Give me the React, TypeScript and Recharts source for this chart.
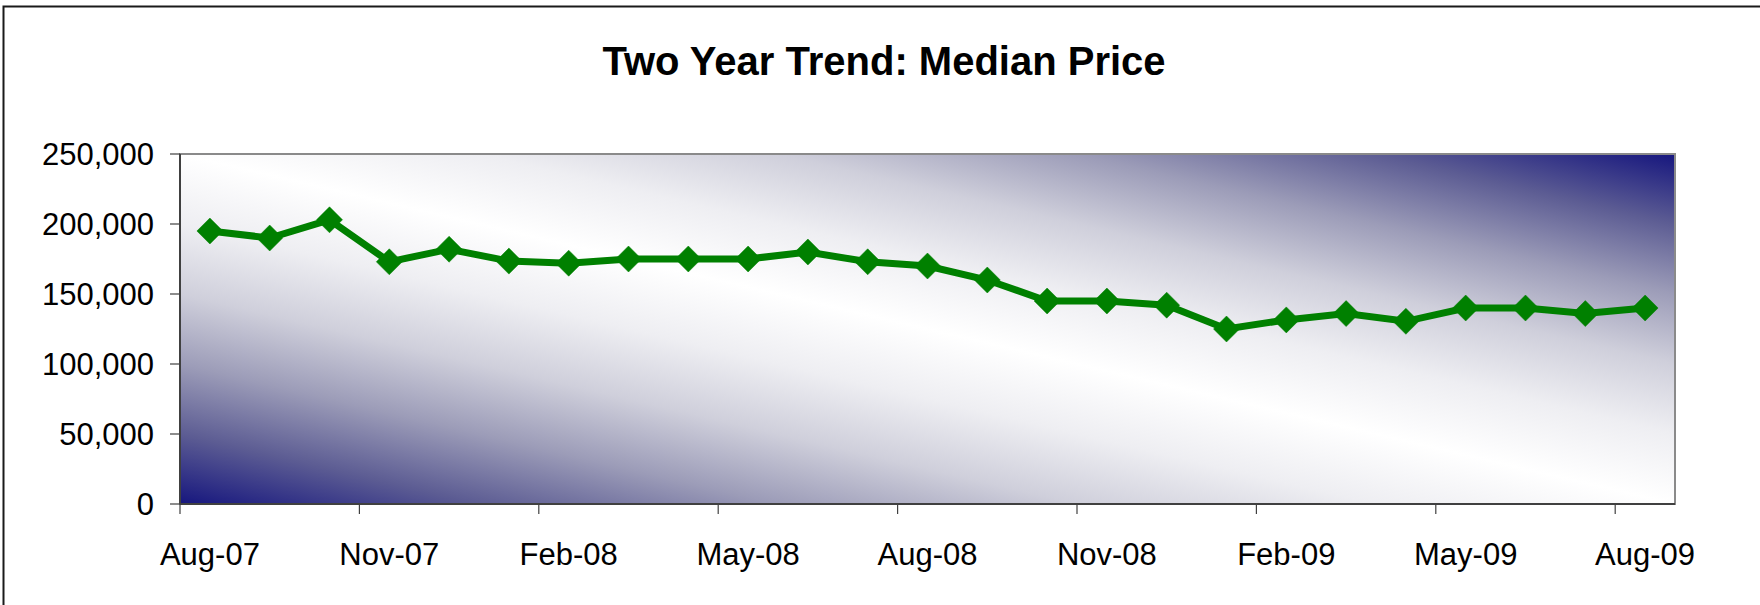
import React from 'react';
import { LineChart, Line, XAxis, YAxis, ReferenceArea } from 'recharts';

// ---- data ----
const months = [
  'Aug-07', 'Sep-07', 'Oct-07', 'Nov-07', 'Dec-07', 'Jan-08', 'Feb-08', 'Mar-08', 'Apr-08',
  'May-08', 'Jun-08', 'Jul-08', 'Aug-08', 'Sep-08', 'Oct-08', 'Nov-08', 'Dec-08', 'Jan-09',
  'Feb-09', 'Mar-09', 'Apr-09', 'May-09', 'Jun-09', 'Jul-09', 'Aug-09',
];
const medianPrice = [
  195000, 190000, 203000, 173000, 182000, 173500, 172000, 175000, 175000,
  175000, 180000, 173000, 170000, 160000, 145000, 145000, 142000, 125000,
  131500, 136000, 130500, 140000, 140000, 136000, 140000,
];
const xTickLabels = ['Aug-07', 'Nov-07', 'Feb-08', 'May-08', 'Aug-08', 'Nov-08', 'Feb-09', 'May-09', 'Aug-09'];
const yTicks = [0, 50000, 100000, 150000, 200000, 250000];
const title = 'Two Year Trend: Median Price';

// ---- layout ----
const W = 1760;
const H = 605;
const MARGIN = { top: 154, right: 85, bottom: 41, left: 0 };
const Y_AXIS_W = 180;
const X_AXIS_H = 60;
const PLOT_W = W - MARGIN.left - MARGIN.right - Y_AXIS_W;
const HALF_SLOT = PLOT_W / months.length / 2;
const FONT = '"Liberation Sans", Arial, sans-serif';

const rows = months.map((m, i) => ({ pos: i + 0.5, month: m, price: medianPrice[i] }));
const xTicks = xTickLabels.map((l) => months.indexOf(l));

const Diamond = (props: any) => {
  const { cx, cy, index } = props;
  if (cx == null || cy == null) return null;
  const r = 13;
  return (
    <polygon
      key={`d-${index}`}
      points={`${cx},${cy - r} ${cx + r},${cy} ${cx},${cy + r} ${cx - r},${cy}`}
      fill="#008000"
      stroke="#008000"
      strokeWidth={0.5}
    />
  );
};

const XTick = (props: any) => {
  const { x, y, payload } = props;
  return (
    <text
      x={x + HALF_SLOT}
      y={y}
      dy={22}
      textAnchor="middle"
      fontSize={31}
      fontFamily={FONT}
      fill="#000"
    >
      {months[payload.value]}
    </text>
  );
};

export default function App() {
  return (
    <div style={{ position: 'absolute', left: 0, top: 0, width: W, height: H, background: '#fff', overflow: 'hidden' }}>
      <LineChart width={W} height={H} data={rows} margin={MARGIN}>
        <defs>
          <linearGradient id="plotBg" x1="0" y1="1" x2="1" y2="0">
            <stop offset="0" stopColor="#16167e" />
            <stop offset="0.1" stopColor="#5c5c93" />
            <stop offset="0.2" stopColor="#9c9cb8" />
            <stop offset="0.3" stopColor="#cfcfdb" />
            <stop offset="0.4" stopColor="#eeeef2" />
            <stop offset="0.5" stopColor="#ffffff" />
            <stop offset="0.6" stopColor="#eeeef2" />
            <stop offset="0.7" stopColor="#cfcfdb" />
            <stop offset="0.8" stopColor="#9c9cb8" />
            <stop offset="0.9" stopColor="#5c5c93" />
            <stop offset="1" stopColor="#16167e" />
          </linearGradient>
        </defs>
        <ReferenceArea
          x1={0}
          x2={months.length}
          y1={0}
          y2={250000}
          fill="url(#plotBg)"
          fillOpacity={1}
          stroke="#8a8a8a"
          strokeWidth={2}
          ifOverflow="visible"
        />
        <XAxis
          dataKey="pos"
          type="number"
          domain={[0, months.length]}
          ticks={xTicks}
          interval={0}
          height={X_AXIS_H}
          tickSize={10}
          tickMargin={29}
          axisLine={{ stroke: '#404040', strokeWidth: 2 }}
          tickLine={{ stroke: '#404040', strokeWidth: 1.2 }}
          tick={<XTick />}
          allowDataOverflow
        />
        <YAxis
          type="number"
          domain={[0, 250000]}
          ticks={yTicks}
          interval={0}
          width={Y_AXIS_W}
          tickSize={10}
          tickMargin={16}
          axisLine={{ stroke: '#404040', strokeWidth: 2 }}
          tickLine={{ stroke: '#404040', strokeWidth: 1.2 }}
          tick={{ fontSize: 31, fill: '#000', fontFamily: FONT }}
          tickFormatter={(v: number) => v.toLocaleString('en-US')}
        />
        <Line
          type="linear"
          dataKey="price"
          stroke="#008000"
          strokeWidth={7}
          dot={<Diamond />}
          activeDot={false}
          isAnimationActive={false}
        />
      </LineChart>
      <svg
        width={W}
        height={H}
        style={{ position: 'absolute', left: 0, top: 0, pointerEvents: 'none' }}
      >
        <path d={`M 3.5 ${H} L 3.5 6.5 L ${W} 6.5`} fill="none" stroke="#1a1a1a" strokeWidth={2} />
        <text x={884} y={75} textAnchor="middle" fontSize={40} fontWeight="bold" fontFamily={FONT} fill="#000">
          {title}
        </text>
      </svg>
    </div>
  );
}
